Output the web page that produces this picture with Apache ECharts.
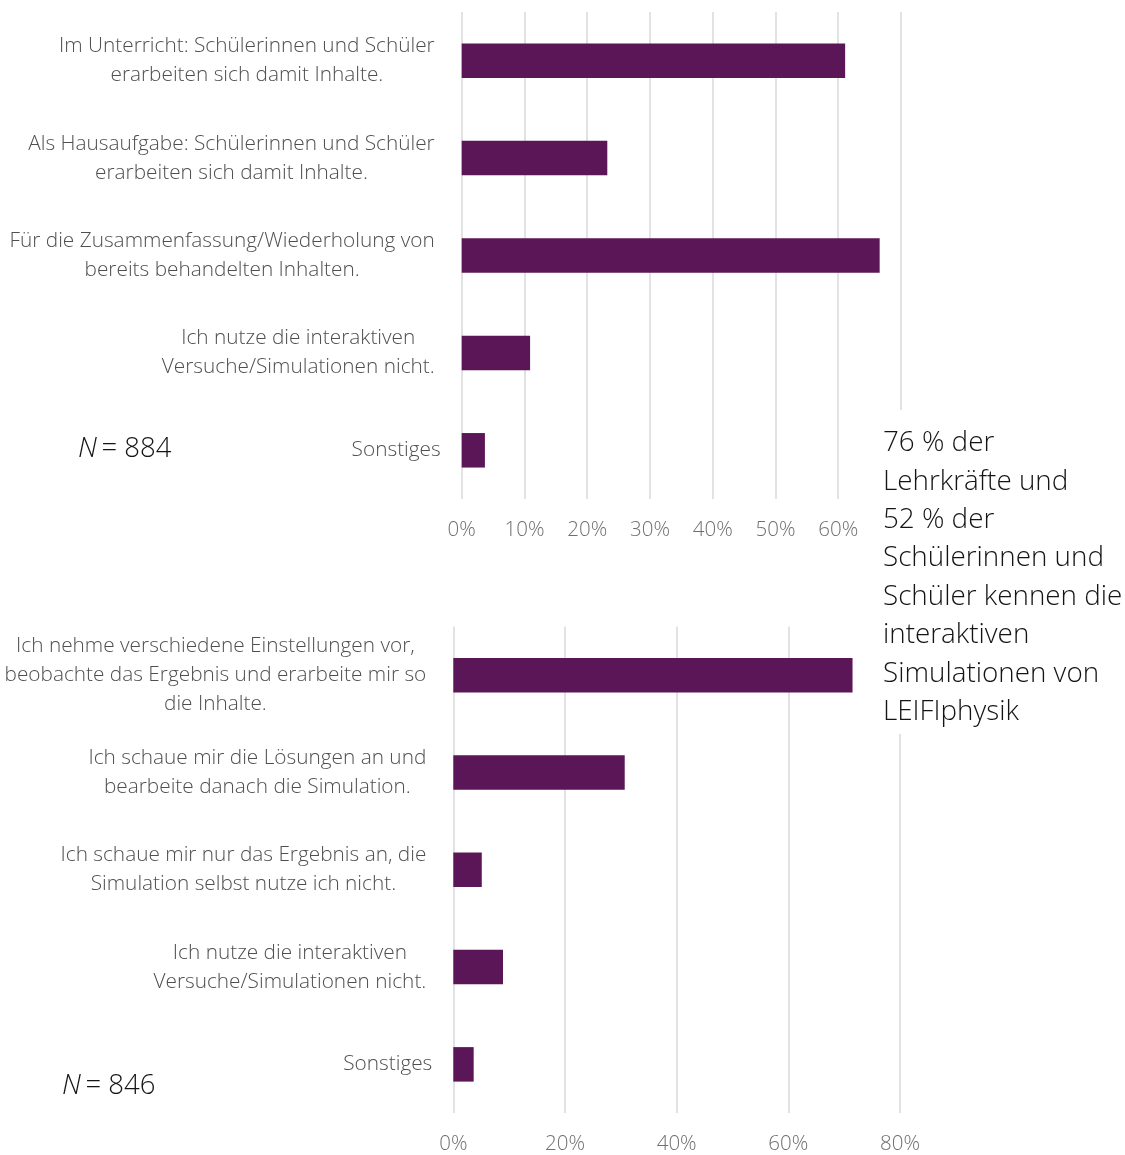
<!DOCTYPE html>
<html>
<head>
<meta charset="utf-8">
<title>Nutzung der interaktiven Simulationen</title>
<script src="https://cdn.jsdelivr.net/npm/echarts@6/dist/echarts.min.js"></script>
<style>
  html, body { margin: 0; padding: 0; background: #ffffff; }
  #chart { width: 1125px; height: 1155px; }
</style>
</head>
<body>
<div id="chart"></div>
<script>
// Lehrkräfte: Einsatz der interaktiven Versuche/Simulationen
const teacherCategories = [
  'Im Unterricht: Schülerinnen und Schüler\nerarbeiten sich damit Inhalte.',
  'Als Hausaufgabe: Schülerinnen und Schüler\nerarbeiten sich damit Inhalte.',
  'Für die Zusammenfassung/Wiederholung von\nbereits behandelten Inhalten.',
  'Ich nutze die interaktiven\nVersuche/Simulationen nicht.',
  'Sonstiges'
];
const teacherValues = [61.1, 23.2, 66.6, 10.9, 3.7];
const teacherTicks = { min: 0, max: 70, interval: 10 };
const teacherN = 884;

// Schülerinnen und Schüler: Umgang mit den Simulationen
const studentCategories = [
  'Ich nehme verschiedene Einstellungen vor,\nbeobachte das Ergebnis und erarbeite mir so\ndie Inhalte.',
  'Ich schaue mir die Lösungen an und\nbearbeite danach die Simulation.',
  'Ich schaue mir nur das Ergebnis an, die\nSimulation selbst nutze ich nicht.',
  'Ich nutze die interaktiven\nVersuche/Simulationen nicht.',
  'Sonstiges'
];
const studentValues = [71.5, 30.7, 5.1, 8.9, 3.65];
const studentTicks = { min: 0, max: 80, interval: 20 };
const studentN = 846;

const noteLines = [
  '76 % der',
  'Lehrkräfte und',
  '52 % der',
  'Schülerinnen und',
  'Schüler kennen die',
  'interaktiven',
  'Simulationen von',
  'LEIFIphysik'
];

const FONT = '"Open Sans", "Noto Sans", sans-serif';
const BAR_COLOR = '#5b1657';
const LABEL_COLOR = '#4f4f4f';
const TICK_COLOR = '#6f6f6f';
const GRID_COLOR = '#d9d9d9';

// every line of a category label is centred inside its block;
// single-line labels sit a little closer to the axis
function centredLines(text) {
  const lines = text.split('\n');
  if (lines.length === 1) {
    return '{s|' + text + '}';
  }
  return lines.map(l => '{c|' + l + '}').join('\n');
}

function categoryAxis(gridIndex, data) {
  const base = {
    color: LABEL_COLOR,
    fontFamily: FONT,
    fontWeight: 300,
    fontSize: 20.8,
    lineHeight: 29
  };
  return {
    type: 'category',
    gridIndex: gridIndex,
    data: data,
    inverse: true,
    axisLine: { show: false },
    axisTick: { show: false },
    splitLine: { show: false },
    axisLabel: {
      margin: 21,
      formatter: centredLines,
      rich: {
        c: Object.assign({ align: 'center', padding: [0, 6, 0, 0] }, base),
        s: Object.assign({ align: 'right' }, base)
      }
    }
  };
}

function valueAxis(gridIndex, ticks) {
  return {
    type: 'value',
    gridIndex: gridIndex,
    min: ticks.min,
    max: ticks.max,
    interval: ticks.interval,
    axisLine: { show: false },
    axisTick: { show: false },
    splitLine: { show: true, lineStyle: { color: GRID_COLOR, width: 1.5 } },
    axisLabel: {
      margin: 21,
      color: TICK_COLOR,
      fontFamily: FONT,
      fontWeight: 300,
      fontSize: 20.5,
      formatter: '{value}%'
    }
  };
}

function nLabel(n, x, y) {
  return {
    type: 'text',
    left: x,
    top: y,
    z: 100,
    style: {
      text: '{i|N}{t|\u2009= ' + n + '}',
      rich: {
        i: { fontFamily: FONT, fontSize: 27.5, fontStyle: 'italic', fontWeight: 300, fill: '#141414' },
        t: { fontFamily: FONT, fontSize: 27.5, fontWeight: 300, fill: '#141414' }
      }
    }
  };
}

const chart = echarts.init(document.getElementById('chart'), null, { renderer: 'canvas' });

chart.setOption({
  animation: false,
  backgroundColor: '#ffffff',
  textStyle: { fontFamily: FONT },
  grid: [
    { left: 461.7, top: 12, width: 439.3, height: 487, containLabel: false },
    { left: 453.3, top: 626.6, width: 446.7, height: 487, containLabel: false }
  ],
  xAxis: [
    valueAxis(0, teacherTicks),
    valueAxis(1, studentTicks)
  ],
  yAxis: [
    categoryAxis(0, teacherCategories),
    categoryAxis(1, studentCategories)
  ],
  series: [
    {
      type: 'bar',
      xAxisIndex: 0,
      yAxisIndex: 0,
      data: teacherValues,
      barWidth: 34.5,
      itemStyle: { color: BAR_COLOR }
    },
    {
      type: 'bar',
      xAxisIndex: 1,
      yAxisIndex: 1,
      data: studentValues,
      barWidth: 34.5,
      itemStyle: { color: BAR_COLOR }
    }
  ],
  graphic: [
    {
      type: 'rect',
      z: 100,
      shape: { x: 866, y: 410, width: 259, height: 324 },
      style: { fill: '#ffffff' }
    },
    {
      type: 'text',
      left: 883,
      top: 424,
      z: 101,
      style: {
        text: noteLines.join('\n'),
        fontFamily: FONT,
        fontWeight: 300,
        fontSize: 27.8,
        lineHeight: 38.4,
        fill: '#141414'
      }
    },
    nLabel(teacherN, 78, 435),
    nLabel(studentN, 62, 1072)
  ]
});
</script>
</body>
</html>
